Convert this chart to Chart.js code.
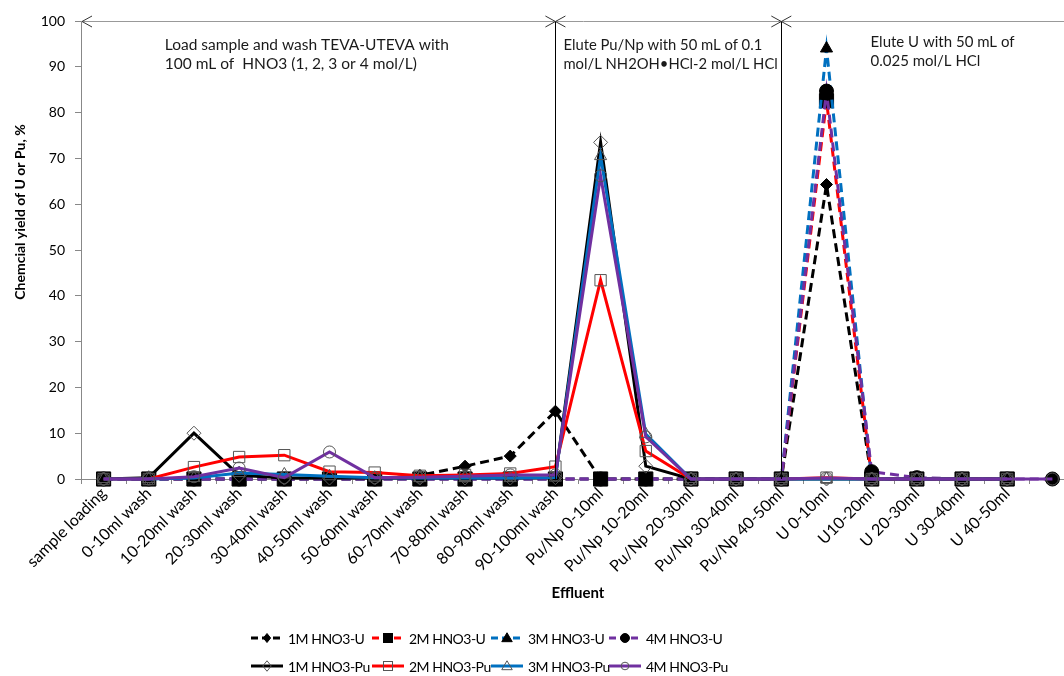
<!DOCTYPE html>
<html>
<head>
<meta charset="utf-8">
<script src="https://cdn.jsdelivr.net/npm/chart.js@4/dist/chart.umd.min.js"></script>
<style>
  html, body { margin: 0; padding: 0; background: #fff; overflow: hidden; }
  #wrap { position: relative; width: 1086px; height: 676px; }
  #legend { position: absolute; left: 0; top: 0; font: 14px Lato, sans-serif; letter-spacing: -0.5px; color: #000; }
  .item { position: absolute; display: flex; align-items: center; white-space: nowrap; height: 20px; }
  .item svg { margin-right: 4px; }
</style>
</head>
<body>
<div id="wrap">
  <canvas id="chart" width="1086" height="676"></canvas>
  <div id="legend"></div>
</div>
<script>
const categories = ["sample loading", "0-10ml wash", "10-20ml wash", "20-30ml wash", "30-40ml wash",
  "40-50ml wash", "50-60ml wash", "60-70ml wash", "70-80ml wash", "80-90ml wash", "90-100ml wash",
  "Pu/Np 0-10ml", "Pu/Np 10-20ml", "Pu/Np 20-30ml", "Pu/Np 30-40ml", "Pu/Np 40-50ml",
  "U 0-10ml", "U10-20ml", "U 20-30ml", "U 30-40ml", "U 40-50ml", ""];

const u1M = [0, 0, 0, 0, 0, 0, 0, 0.8, 2.8, 5, 14.8, 0, 0, 0, 0, 0, 64.3, 0, 0, 0, 0, null];
const u2M = [0, 0, 0, 0, 0, 0, 0, 0, 0, 0, 0, 0, 0, 0, 0, 0, 82.6, 0, 0, 0, 0, null];
const u3M = [0, 0, 0, 0, 0, 0, 0, 0, 0, 0, 0, 0, 0, 0, 0, 0, 94, 0, 0, 0, 0, null];
const u4M = [0, 0, 0, 0, 0, 0, 0, 0, 0, 0, 0, 0, 0, 0, 0, 0, 84.7, 1.6, 0.3, 0, 0, 0];
const pu1M = [0, 0.3, 10, 0.8, 0.2, 0.2, 0.2, 0.2, 0.2, 0.2, 0.3, 73.5, 2.8, 0, 0, 0, 0, 0, 0, 0, 0, null];
const pu2M = [0, 0, 2.6, 4.8, 5.2, 1.6, 1.4, 0.7, 0.9, 1.2, 2.7, 43.4, 6.1, 0, 0, 0, 0.3, 0, 0, 0, 0, null];
const pu3M = [0, 0, 0.2, 1.3, 1, 0.6, 0.3, 0.2, 0.2, 0.2, 0.3, 70.5, 9.8, 0, 0, 0, 0, 0, 0, 0, 0, null];
const pu4M = [0, 0, 0.5, 2.4, 0.3, 5.9, 0.3, 0.4, 0.6, 0.9, 0.9, 66.2, 9.2, 0, 0, 0, 0.2, 0, 0, 0, 0, 0];

const yTicks = [0, 10, 20, 30, 40, 50, 60, 70, 80, 90, 100];
const boxNotes = [
  ["Load sample and wash TEVA-UTEVA with", "100 mL of  HNO3 (1, 2, 3 or 4 mol/L)"],
  ["Elute Pu/Np with 50 mL of 0.1", "mol/L NH2OH\u2022HCl-2 mol/L HCl"],
  ["Elute U with 50 mL of", "0.025 mol/L HCl"]
];

const FONT = "Lato, 'Open Sans', sans-serif";
const dash = [9, 5];

function series(label, data, color, dashed, style, radius, open) {
  return {
    label: label,
    data: data,
    borderColor: color,
    backgroundColor: color,
    borderWidth: 3,
    borderDash: dashed ? dash : [],
    tension: 0,
    spanGaps: false,
    clip: false,
    pointStyle: style,
    pointRadius: radius,
    pointHoverRadius: radius,
    pointBackgroundColor: open ? "rgba(255,255,255,0)" : "#000",
    pointBorderColor: open ? "#555" : "#000",
    pointBorderWidth: 1
  };
}

const datasets = [
  series("1M HNO3-U", u1M, "#000000", true, "rectRot", 6, false),
  series("2M HNO3-U", u2M, "#ff0000", true, "rect", 10, false),
  series("3M HNO3-U", u3M, "#0070c0", true, "triangle", 7, false),
  series("4M HNO3-U", u4M, "#7030a0", true, "circle", 7, false),
  series("1M HNO3-Pu", pu1M, "#000000", false, "rectRot", 7, true),
  series("2M HNO3-Pu", pu2M, "#ff0000", false, "rect", 8, true),
  series("3M HNO3-Pu", pu3M, "#0070c0", false, "triangle", 7, true),
  series("4M HNO3-Pu", pu4M, "#7030a0", false, "circle", 6, true)
];
// later series drawn on top, like the spreadsheet
datasets.forEach(function (d, i) { d.order = datasets.length - i; });

const notesPlugin = {
  id: "notes",
  afterDraw: function (chart) {
    const ctx = chart.ctx;
    const x = chart.scales.x;
    const a = chart.chartArea;
    const y = a.top;
    const x1 = x.getPixelForValue(10);
    const x2 = x.getPixelForValue(15);
    ctx.save();
    // divider lines
    ctx.strokeStyle = "#000";
    ctx.lineWidth = 1;
    [x1, x2].forEach(function (px) {
      ctx.beginPath();
      ctx.moveTo(Math.round(px) + 0.5, y);
      ctx.lineTo(Math.round(px) + 0.5, a.bottom);
      ctx.stroke();
    });
    // top arrow line
    ctx.strokeStyle = "#999";
    ctx.beginPath();
    ctx.moveTo(a.left, y + 0.5);
    ctx.lineTo(chart.width, y + 0.5);
    ctx.stroke();
    ctx.strokeStyle = "#333";
    function head(px, dir) {
      ctx.beginPath();
      ctx.moveTo(px + dir * 10, y - 5);
      ctx.lineTo(px, y + 0.5);
      ctx.lineTo(px + dir * 10, y + 6);
      ctx.stroke();
    }
    head(a.left + 1, 1);
    head(x1, -1); head(x1, 1);
    head(x2, -1); head(x2, 1);
    // box notes
    ctx.fillStyle = "#1a1a1a";
    ctx.textBaseline = "alphabetic";
    const spots = [
      [x.getPixelForValue(1) + 16, 50, 15.5],
      [x1 + 8, 50, 14.8],
      [x.getPixelForValue(16) + 44, 47, 15]
    ];
    boxNotes.forEach(function (lines, i) {
      ctx.font = spots[i][2] + "px " + FONT;
      lines.forEach(function (t, j) {
        ctx.fillText(t, spots[i][0], spots[i][1] + j * 19);
      });
    });
    // y title
    ctx.font = "bold 14px " + FONT;
    ctx.fillStyle = "#000";
    ctx.translate(20, 212);
    ctx.rotate(-Math.PI / 2);
    ctx.textAlign = "center";
    ctx.textBaseline = "middle";
    ctx.fillText("Chemcial yield of U or Pu, %", 0, 0);
    ctx.restore();
  }
};

new Chart(document.getElementById("chart"), {
  type: "line",
  data: { labels: categories, datasets: datasets },
  plugins: [notesPlugin],
  options: {
    responsive: false,
    animation: false,
    events: [],
    layout: { padding: { left: 0, right: 5, top: 21, bottom: 74 } },
    plugins: { legend: { display: false }, tooltip: { enabled: false } },
    scales: {
      x: {
        type: "category",
        offset: true,
        grid: { display: true, drawOnChartArea: false, tickLength: 5, color: "#888", offset: true },
        border: { color: "#888" },
        ticks: {
          autoSkip: false, minRotation: 45, maxRotation: 45, padding: 0,
          color: "#000", font: { family: FONT, size: 16 }
        },
        title: { display: true, text: "Effluent", color: "#000", padding: { top: 0, bottom: 0 },
          font: { family: FONT, size: 15, weight: "bold" } },
        afterFit: function (s) { s.height = 123; }
      },
      y: {
        min: 0, max: 100,
        afterBuildTicks: function (s) { s.ticks = yTicks.map(function (v) { return { value: v }; }); },
        grid: { display: true, drawOnChartArea: false, tickLength: 6, color: "#888" },
        border: { color: "#888" },
        ticks: { color: "#000", padding: 10, font: { family: FONT, size: 14 } },
        afterFit: function (s) { s.width = 81; }
      }
    }
  }
});

// legend: line sample with marker, then label
const legendCols = [250, 371, 490, 608];
const legendRows = [628, 656];
const legend = document.getElementById("legend");
function markerSvg(d) {
  const cx = 17, cy = 10, r = Math.min(d.pointRadius, 8) * 0.75;
  const fill = d.pointBackgroundColor, stroke = d.pointBorderColor;
  if (d.pointStyle === "circle") return '<circle cx="' + cx + '" cy="' + cy + '" r="' + (r * 0.85) + '" fill="' + fill + '" stroke="' + stroke + '"/>';
  if (d.pointStyle === "rect") { const h = r * 0.75; return '<rect x="' + (cx - h) + '" y="' + (cy - h) + '" width="' + 2 * h + '" height="' + 2 * h + '" fill="' + fill + '" stroke="' + stroke + '"/>'; }
  if (d.pointStyle === "rectRot") return '<polygon points="' + cx + ',' + (cy - r) + ' ' + (cx + r * 0.8) + ',' + cy + ' ' + cx + ',' + (cy + r) + ' ' + (cx - r * 0.8) + ',' + cy + '" fill="' + fill + '" stroke="' + stroke + '"/>';
  return '<polygon points="' + cx + ',' + (cy - r) + ' ' + (cx + r) + ',' + (cy + r * 0.7) + ' ' + (cx - r) + ',' + (cy + r * 0.7) + '" fill="' + fill + '" stroke="' + stroke + '"/>';
}
datasets.forEach(function (d, i) {
  const el = document.createElement("div");
  el.className = "item";
  el.style.left = legendCols[i % 4] + "px";
  el.style.top = legendRows[Math.floor(i / 4)] + "px";
  const dashAttr = d.borderDash.length ? ' stroke-dasharray="7 4"' : "";
  el.innerHTML = '<svg width="34" height="20"><line x1="1" y1="10" x2="33" y2="10" stroke="' + d.borderColor +
    '" stroke-width="3"' + dashAttr + '/>' + markerSvg(d) + '</svg><span>' + d.label + '</span>';
  legend.appendChild(el);
});
</script>
</body>
</html>
